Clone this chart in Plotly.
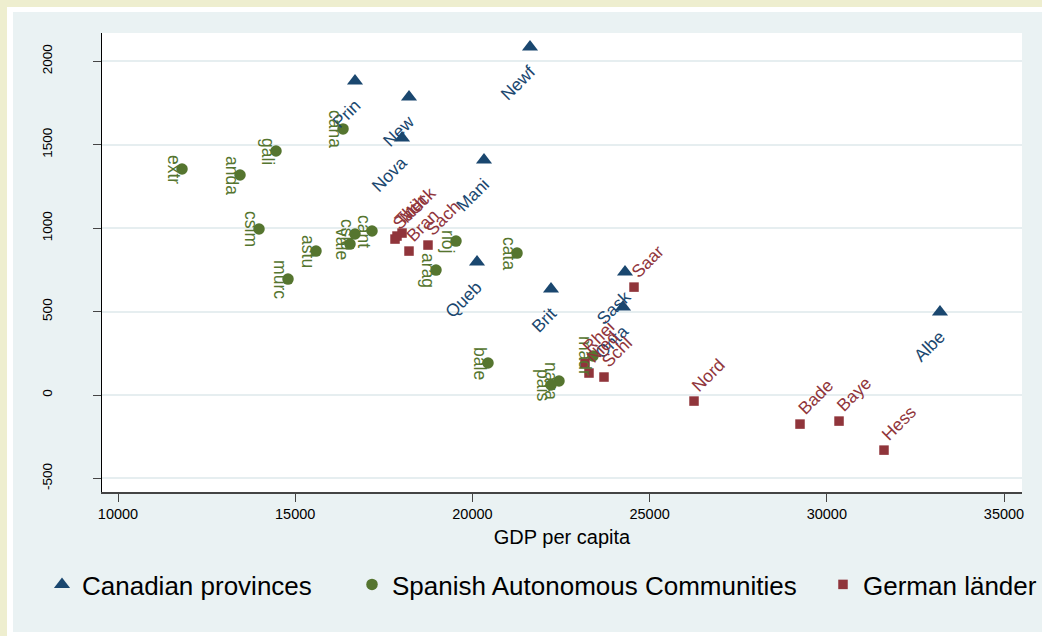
import plotly.graph_objects as go

# ---- data -------------------------------------------------------------
can_names = ["Newf", "Prin", "Nova", "New", "Queb", "Onta", "Mani", "Sask", "Albe", "Brit"]
can_gdp = [21625, 16687, 18014, 18211, 20130, 24250, 20327, 24306, 33194, 22218]
can_val = [2086, 1882, 1541, 1787, 797, 528, 1409, 737, 498, 635]

spa_names = ["anda", "arag", "astu", "bale", "cana", "cant", "csle", "cslm", "cata",
             "vale", "extr", "gali", "madr", "murc", "nava", "pais", "rioj"]
spa_gdp = [13442, 18973, 15587, 20440, 16349, 17167, 16687, 13979, 21259,
           16546, 11806, 14458, 23403, 14797, 22444, 22218, 19537]
spa_val = [1319, 749, 863, 192, 1595, 983, 965, 995, 851,
           905, 1355, 1463, 234, 695, 84, 60, 923]

ger_names = ["Bade", "Baye", "Bran", "Hess", "Meck", "Nied", "Nord", "Rhei",
             "Saar", "Sach", "Sach", "Schl", "Thür"]
ger_gdp = [29244, 30345, 18211, 31614, 18014, 23290, 26253, 23177,
           24560, 18747, 17816, 23713, 17872]
ger_val = [-174, -156, 863, -330, 971, 132, -36, 192,
           647, 899, 935, 108, 953]

x_ticks = [10000, 15000, 20000, 25000, 30000, 35000]
y_ticks = [-500, 0, 500, 1000, 1500, 2000]

# ---- style ------------------------------------------------------------
W, H = 1042, 636
ML, MR, MT, MB = 102, 20, 33, 144
PW, PH = W - ML - MR, H - MT - MB
FONT = "Liberation Sans, Arial, sans-serif"
NAVY, GREEN, MAROON = "#1A476F", "#55752F", "#90353B"
PANEL, CREAM, GRID = "#EAF2F3", "#EEEECF", "#E6EEF0"

series = [
    dict(name="Canadian provinces", x=can_gdp, y=can_val, labels=can_names,
         color=NAVY, symbol="triangle-up", size=14, lw=265,
         lab=dict(textangle=-45, xanchor="right", yanchor="top", xshift=12, yshift=-12)),
    dict(name="Spanish Autonomous Communities", x=spa_gdp, y=spa_val, labels=spa_names,
         color=GREEN, symbol="circle", size=11.5, lw=426,
         lab=dict(textangle=90, xanchor="center", yanchor="middle", xshift=-8, yshift=0)),
    dict(name="German länder", x=ger_gdp, y=ger_val, labels=ger_names,
         color=MAROON, symbol="square", size=9.5, lw=200,
         lab=dict(textangle=-45, xanchor="left", yanchor="bottom", xshift=-9, yshift=3)),
]

fig = go.Figure()
annotations = []
for s in series:
    fig.add_trace(go.Scatter(
        x=s["x"], y=s["y"], mode="markers", name=s["name"],
        marker=dict(symbol=s["symbol"], size=s["size"], color=s["color"]),
        legendwidth=s["lw"], hoverinfo="skip",
    ))
    for xv, yv, t in zip(s["x"], s["y"], s["labels"]):
        annotations.append(dict(
            x=xv, y=yv, xref="x", yref="y", text=t, showarrow=False,
            font=dict(family=FONT, size=17.5, color=s["color"]), **s["lab"]))


def px_x(p):
    return (p - ML) / PW


def px_y(p):
    return (H - MB - p) / PH


shapes = [
    dict(type="rect", xref="paper", yref="paper", layer="below",
         x0=px_x(7), x1=px_x(W + 5), y0=px_y(H + 5), y1=px_y(7),
         line=dict(width=0), fillcolor="white"),
    dict(type="rect", xref="paper", yref="paper", layer="below",
         x0=px_x(13), x1=px_x(W + 5), y0=px_y(632), y1=px_y(12),
         line=dict(width=0), fillcolor=PANEL),
    dict(type="rect", xref="paper", yref="paper", layer="below",
         x0=0, x1=1, y0=0, y1=1, line=dict(width=0), fillcolor="white"),
]

fig.update_layout(
    width=W, height=H,
    margin=dict(l=ML, r=MR, t=MT, b=MB, autoexpand=False),
    paper_bgcolor=CREAM, plot_bgcolor="white",
    font=dict(family=FONT, color="black"),
    showlegend=True,
    legend=dict(orientation="h", x=px_x(42), xanchor="left",
                y=px_y(561), yanchor="top",
                font=dict(family=FONT, size=26, color="black"),
                bgcolor="rgba(0,0,0,0)", itemclick=False, itemdoubleclick=False),
    annotations=annotations,
    shapes=shapes,
)

fig.update_xaxes(
    range=[9548, 35508], tickvals=x_ticks, ticktext=[str(v) for v in x_ticks],
    showgrid=False, zeroline=False,
    showline=True, linecolor="#444", linewidth=1.5,
    ticks="outside", ticklen=8, tickcolor="#444", tickwidth=1,
    tickfont=dict(family=FONT, size=14.5, color="black"),
    title=dict(text="GDP per capita", font=dict(family=FONT, size=20, color="black"),
               standoff=9),
)
fig.update_yaxes(
    range=[-581, 2170], tickvals=y_ticks, ticktext=[str(v) for v in y_ticks],
    tickangle=-90,
    showgrid=True, gridcolor=GRID, gridwidth=2, zeroline=False,
    showline=True, linecolor="black", linewidth=1,
    ticks="outside", ticklen=8, tickcolor="#444", tickwidth=1,
    ticklabelstandoff=36,
    tickfont=dict(family=FONT, size=13.5, color="black"),
)

fig.write_html("out.html")
